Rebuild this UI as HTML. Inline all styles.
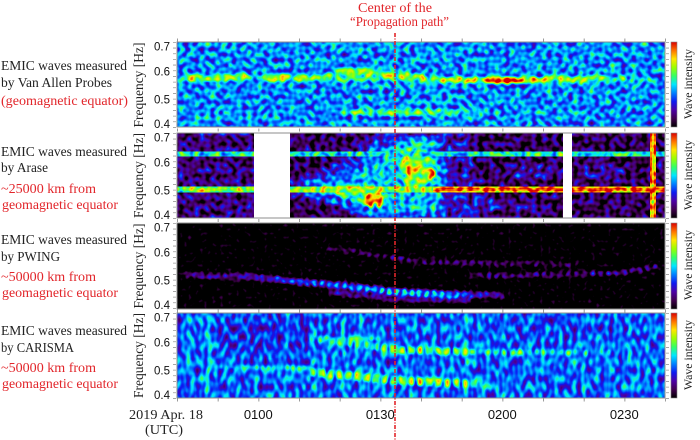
<!DOCTYPE html>
<html><head><meta charset="utf-8">
<style>
html,body{margin:0;padding:0;background:#fff;}
svg{display:block;}
.s{font-family:"Liberation Serif",serif;}
.a{font-family:"Liberation Sans",sans-serif;}
</style></head><body>
<svg width="700" height="440" viewBox="0 0 700 440" xmlns="http://www.w3.org/2000/svg">
<defs>
 <filter id="f1" x="0" y="0" width="1" height="1" color-interpolation-filters="sRGB">
  <feTurbulence type="fractalNoise" baseFrequency="0.19" numOctaves="1" seed="7" result="t"/>
  <feColorMatrix in="t" type="matrix" values="1 0 0 0 0  1 0 0 0 0  1 0 0 0 0  0 0 0 0 1" result="g"/>
  <feComposite in="SourceGraphic" in2="g" operator="arithmetic" k1="0" k2="1" k3="0.8" k4="-0.41" result="s"/>
  <feComponentTransfer in="s">
   <feFuncR type="table" tableValues="0 .25 .3 .05 0 0 .2 .6 1 1 .85"/>
   <feFuncG type="table" tableValues="0 0 0 .1 .5 .9 1 1 .9 .45 0"/>
   <feFuncB type="table" tableValues="0 .3 .65 .95 1 1 .4 0 0 0 0"/>
  </feComponentTransfer>
 </filter>
 <filter id="f2" x="0" y="0" width="1" height="1" color-interpolation-filters="sRGB">
  <feTurbulence type="fractalNoise" baseFrequency="0.19" numOctaves="1" seed="3" result="t"/>
  <feColorMatrix in="t" type="matrix" values="1 0 0 0 0  1 0 0 0 0  1 0 0 0 0  0 0 0 0 1" result="g"/>
  <feComposite in="SourceGraphic" in2="g" operator="arithmetic" k1="0" k2="1" k3="0.8" k4="-0.42" result="s"/>
  <feComponentTransfer in="s">
   <feFuncR type="table" tableValues="0 .25 .3 .05 0 0 .2 .6 1 1 .85"/>
   <feFuncG type="table" tableValues="0 0 0 .1 .5 .9 1 1 .9 .45 0"/>
   <feFuncB type="table" tableValues="0 .3 .65 .95 1 1 .4 0 0 0 0"/>
  </feComponentTransfer>
 </filter>
 <filter id="f3" x="0" y="0" width="1" height="1" color-interpolation-filters="sRGB">
  <feTurbulence type="fractalNoise" baseFrequency="0.25" numOctaves="1" seed="11" result="t"/>
  <feColorMatrix in="t" type="matrix" values="1 0 0 0 0  1 0 0 0 0  1 0 0 0 0  0 0 0 0 1" result="g"/>
  <feComposite in="SourceGraphic" in2="g" operator="arithmetic" k1="0" k2="1" k3="0.5" k4="-0.31" result="s"/>
  <feComponentTransfer in="s">
   <feFuncR type="table" tableValues="0 .25 .3 .05 0 0 .2 .6 1 1 .85"/>
   <feFuncG type="table" tableValues="0 0 0 .1 .5 .9 1 1 .9 .45 0"/>
   <feFuncB type="table" tableValues="0 .3 .65 .95 1 1 .4 0 0 0 0"/>
  </feComponentTransfer>
 </filter>
 <filter id="f4" x="0" y="0" width="1" height="1" color-interpolation-filters="sRGB">
  <feTurbulence type="fractalNoise" baseFrequency="0.22 0.12" numOctaves="1" seed="5" result="t"/>
  <feColorMatrix in="t" type="matrix" values="1 0 0 0 0  1 0 0 0 0  1 0 0 0 0  0 0 0 0 1" result="g"/>
  <feComposite in="SourceGraphic" in2="g" operator="arithmetic" k1="0" k2="1" k3="0.75" k4="-0.375" result="s"/>
  <feComponentTransfer in="s">
   <feFuncR type="table" tableValues="0 .25 .3 .05 0 0 .2 .6 1 1 .85"/>
   <feFuncG type="table" tableValues="0 0 0 .1 .5 .9 1 1 .9 .45 0"/>
   <feFuncB type="table" tableValues="0 .3 .65 .95 1 1 .4 0 0 0 0"/>
  </feComponentTransfer>
 </filter>
 <filter id="bl" filterUnits="userSpaceOnUse" x="0" y="0" width="700" height="440"><feGaussianBlur stdDeviation="1.3"/></filter>
 <filter id="bl2" filterUnits="userSpaceOnUse" x="0" y="0" width="700" height="440"><feGaussianBlur stdDeviation="3"/></filter>
 <linearGradient id="cbar" x1="0" y1="1" x2="0" y2="0">
  <stop offset="0" stop-color="#000000"/><stop offset=".1" stop-color="#40004d"/>
  <stop offset=".2" stop-color="#4d00a6"/><stop offset=".3" stop-color="#0d1af2"/>
  <stop offset=".4" stop-color="#0080ff"/><stop offset=".5" stop-color="#00e6ff"/>
  <stop offset=".6" stop-color="#33ff66"/><stop offset=".7" stop-color="#99ff00"/>
  <stop offset=".8" stop-color="#ffe600"/><stop offset=".9" stop-color="#ff7300"/>
  <stop offset="1" stop-color="#d90000"/>
 </linearGradient>
 <linearGradient id="g3a" gradientUnits="userSpaceOnUse" x1="185" y1="0" x2="505" y2="0">
  <stop offset="0" stop-color="#333333"/><stop offset=".234" stop-color="#575757"/>
  <stop offset=".359" stop-color="#6e6e6e"/><stop offset=".484" stop-color="#858585"/>
  <stop offset=".609" stop-color="#999999"/><stop offset=".734" stop-color="#a6a6a6"/>
  <stop offset=".797" stop-color="#9c9c9c"/><stop offset=".859" stop-color="#808080"/>
  <stop offset=".922" stop-color="#5c5c5c"/><stop offset="1" stop-color="#383838"/>
 </linearGradient>
 <linearGradient id="g3b" gradientUnits="userSpaceOnUse" x1="327" y1="0" x2="577" y2="0">
  <stop offset="0" stop-color="#2b2b2b"/><stop offset=".172" stop-color="#3d3d3d"/>
  <stop offset=".372" stop-color="#4d4d4d"/><stop offset=".692" stop-color="#424242"/>
  <stop offset="1" stop-color="#303030"/>
 </linearGradient>
 <linearGradient id="g3c" gradientUnits="userSpaceOnUse" x1="470" y1="0" x2="662" y2="0">
  <stop offset="0" stop-color="#333333"/><stop offset=".156" stop-color="#525252"/>
  <stop offset=".677" stop-color="#525252"/><stop offset="1" stop-color="#575757"/>
 </linearGradient>
 <linearGradient id="g4a" gradientUnits="userSpaceOnUse" x1="213" y1="0" x2="310" y2="0">
  <stop offset="0" stop-color="#808080"/><stop offset="1" stop-color="#999999"/>
 </linearGradient>
 <linearGradient id="g4b" gradientUnits="userSpaceOnUse" x1="310" y1="0" x2="487" y2="0">
  <stop offset="0" stop-color="#adadad"/><stop offset=".17" stop-color="#c2c2c2"/>
  <stop offset=".73" stop-color="#c4c4c4"/><stop offset=".9" stop-color="#a8a8a8"/>
  <stop offset="1" stop-color="#8c8c8c"/>
 </linearGradient>
 <linearGradient id="g4c" gradientUnits="userSpaceOnUse" x1="310" y1="0" x2="470" y2="0">
  <stop offset="0" stop-color="#949494"/><stop offset=".3" stop-color="#a8a8a8"/>
  <stop offset=".56" stop-color="#bdbdbd"/><stop offset="1" stop-color="#bdbdbd"/>
 </linearGradient>
 <linearGradient id="g4d" gradientUnits="userSpaceOnUse" x1="470" y1="0" x2="625" y2="0">
  <stop offset="0" stop-color="#b0b0b0"/><stop offset=".15" stop-color="#9e9e9e"/>
  <stop offset=".85" stop-color="#949494"/><stop offset="1" stop-color="#7a7a7a"/>
 </linearGradient>
</defs>

<!-- ========== Panel 1 ========== -->
<g filter="url(#f1)">
 <rect x="177" y="42" width="488" height="85" fill="#6b6b6b"/>
 <g filter="url(#bl)">
  <rect x="182" y="75" width="66" height="6" fill="#a3a3a3"/>
  <rect x="248" y="76" width="14" height="4" fill="#858585"/>
  <rect x="262" y="75" width="68" height="6" fill="#a3a3a3"/>
  <ellipse cx="192" cy="78" rx="6" ry="3" fill="#c2c2c2"/>
  <ellipse cx="213" cy="78" rx="6" ry="3" fill="#bababa"/>
  <ellipse cx="228" cy="77" rx="5" ry="3" fill="#c7c7c7"/>
  <ellipse cx="241" cy="76" rx="5" ry="3" fill="#bababa"/>
  <ellipse cx="271" cy="79" rx="5" ry="3" fill="#bababa"/>
  <ellipse cx="283" cy="77" rx="4" ry="3" fill="#d9d9d9"/>
  <ellipse cx="300" cy="78" rx="6" ry="3" fill="#bababa"/>
  <ellipse cx="316" cy="77" rx="6" ry="3" fill="#b3b3b3"/>
  <polygon points="320,76 345,67 385,68 430,76 430,84 385,81 345,81 320,82" fill="#999999"/>
  <ellipse cx="350" cy="74" rx="6" ry="3" fill="#b3b3b3"/>
  <ellipse cx="368" cy="73" rx="6" ry="3" fill="#b3b3b3"/>
  <ellipse cx="388" cy="75" rx="6" ry="3" fill="#b8b8b8"/>
  <ellipse cx="405" cy="77" rx="6" ry="3" fill="#b3b3b3"/>
  <ellipse cx="422" cy="78" rx="6" ry="3" fill="#b8b8b8"/>
  <rect x="430" y="77" width="170" height="6" fill="#a8a8a8"/>
  <rect x="600" y="78" width="50" height="4" fill="#8f8f8f"/>
  <ellipse cx="440" cy="80" rx="6" ry="3" fill="#bababa"/>
  <ellipse cx="455" cy="79" rx="6" ry="3" fill="#c7c7c7"/>
  <ellipse cx="470" cy="80" rx="6" ry="3" fill="#c7c7c7"/>
  <ellipse cx="503" cy="80" rx="20" ry="3.5" fill="#f2f2f2"/>
  <ellipse cx="533" cy="80" rx="6" ry="3" fill="#e0e0e0"/>
  <ellipse cx="548" cy="79" rx="5" ry="3" fill="#d9d9d9"/>
  <ellipse cx="565" cy="78" rx="6" ry="3" fill="#c7c7c7"/>
  <ellipse cx="582" cy="79" rx="6" ry="3" fill="#bfbfbf"/>
  <ellipse cx="600" cy="78" rx="6" ry="3" fill="#b3b3b3"/>
  <ellipse cx="620" cy="79" rx="6" ry="2.5" fill="#a6a6a6"/>
  <ellipse cx="415" cy="112" rx="75" ry="4" fill="#8f8f8f"/>
  <ellipse cx="360" cy="112" rx="8" ry="3" fill="#999999"/>
  <ellipse cx="392" cy="113" rx="8" ry="3" fill="#999999"/>
  <ellipse cx="432" cy="112" rx="8" ry="3" fill="#999999"/>
 </g>
</g>

<!-- ========== Panel 2 ========== -->
<g filter="url(#f2)">
 <rect x="177" y="133" width="488" height="85" fill="#1f1f1f"/>
 <rect x="177" y="133" width="77" height="85" fill="#2b2b2b"/>
 <g filter="url(#bl)">
  <polygon points="290,181 337,161 357,144 368,133 470,133 480,218 357,218 337,208 290,196" fill="#3b3b3b"/>
  <polygon points="298,184 342,170 364,152 380,137 440,135 448,175 445,218 368,218 340,205 298,194" fill="#5e5e5e"/>
  <polygon points="315,185 350,178 375,163 395,142 435,139 442,190 435,212 385,212 350,199 315,193" fill="#7d7d7d"/>
  <ellipse cx="470" cy="205" rx="28" ry="11" fill="#454545"/>
  <ellipse cx="535" cy="172" rx="30" ry="8" fill="#383838"/>
  <ellipse cx="600" cy="172" rx="25" ry="8" fill="#383838"/>
  <ellipse cx="520" cy="205" rx="25" ry="8" fill="#333333"/>
 </g>
 <g filter="url(#bl)">
  <ellipse cx="365" cy="196" rx="16" ry="9" fill="#a3a3a3"/>
  <ellipse cx="416" cy="168" rx="16" ry="22" fill="#a3a3a3"/>
  <ellipse cx="342" cy="190" rx="9" ry="5" fill="#a3a3a3"/>
  <ellipse cx="340" cy="191" rx="5" ry="4" fill="#e0e0e0"/>
  <ellipse cx="370" cy="200" rx="4" ry="8" fill="#f2f2f2"/>
  <ellipse cx="379" cy="200" rx="4" ry="8" fill="#f2f2f2"/>
  <ellipse cx="411" cy="171" rx="4" ry="8" fill="#f2f2f2"/>
  <ellipse cx="418" cy="166" rx="3" ry="5" fill="#e6e6e6"/>
  <ellipse cx="431" cy="174" rx="4" ry="6" fill="#f2f2f2"/>
  <ellipse cx="404" cy="160" rx="3" ry="4" fill="#d9d9d9"/>
 </g>
 <rect x="177" y="151.5" width="488" height="5" fill="#8c8c8c"/>
 <rect x="177" y="186.5" width="113" height="6" fill="#a6a6a6"/>
 <rect x="177" y="188" width="113" height="3" fill="#b8b8b8"/>
 <rect x="290" y="186.5" width="143" height="6" fill="#b8b8b8"/>
 <rect x="433" y="186.5" width="232" height="6" fill="#dedede"/>
 <rect x="433" y="188" width="232" height="3" fill="#f7f7f7"/>
 <rect x="650" y="133" width="6" height="85" fill="#ebebeb"/>
 <rect x="652" y="133" width="2" height="85" fill="#d1d1d1"/>
 <rect x="650" y="186.5" width="6" height="6" fill="#f7f7f7"/>
</g>
<rect x="254" y="133" width="36" height="85" fill="#ffffff"/>
<rect x="563" y="133" width="9" height="85" fill="#ffffff"/>

<!-- ========== Panel 3 ========== -->
<g filter="url(#f3)">
 <rect x="177" y="223" width="488" height="86" fill="#000000"/>
 <g filter="url(#bl)">
  <polyline points="185,275 253,277 303,282 353,287 397,292 440,294 480,295 505,295" fill="none" stroke="#383838" stroke-width="4"/>
  <polyline points="330,292 400,299 470,300" fill="none" stroke="#3d3d3d" stroke-width="6"/>
  <polyline points="185,275 253,277 303,282 353,287 397,292 440,294 480,295 505,295" fill="none" stroke="url(#g3a)" stroke-width="7" stroke-dasharray="5 2.5"/>
  <polyline points="327,248 420,262 577,265" fill="none" stroke="url(#g3b)" stroke-width="5" stroke-dasharray="5 3"/>
  <polyline points="470,276 620,273 662,266" fill="none" stroke="url(#g3c)" stroke-width="5" stroke-dasharray="5 3"/>
 </g>
</g>

<!-- ========== Panel 4 ========== -->
<g filter="url(#f4)">
 <rect x="177" y="313" width="488" height="85" fill="#5e5e5e"/>
 <g filter="url(#bl2)">
  <ellipse cx="270" cy="335" rx="60" ry="22" fill="#4f4f4f"/>
  <ellipse cx="560" cy="325" rx="70" ry="12" fill="#555555"/>
 </g>
 <g fill="#707070" filter="url(#bl)">
  <rect x="189" y="313" width="3" height="85"/>
  <rect x="206" y="313" width="4" height="85" fill="#828282"/>
  <rect x="285" y="313" width="3" height="85"/>
  <rect x="312" y="313" width="3" height="85"/>
  <rect x="342" y="313" width="3" height="85" fill="#6e6e6e"/>
  <rect x="359" y="313" width="3" height="85" fill="#6b6b6b"/>
  <rect x="466" y="313" width="3" height="85" fill="#7a7a7a"/>
  <rect x="502" y="313" width="3" height="85"/>
  <rect x="529" y="313" width="3" height="85" fill="#6b6b6b"/>
  <rect x="582" y="313" width="3" height="85"/>
  <rect x="606" y="313" width="3" height="85" fill="#6e6e6e"/>
  <rect x="629" y="313" width="3" height="85"/>
  <rect x="646" y="313" width="3" height="85" fill="#6b6b6b"/>
 </g>
 <g filter="url(#bl)">
  <path d="M213,367 L310,368" fill="none" stroke="url(#g4a)" stroke-width="4" stroke-dasharray="4 2"/>
  <path d="M310,372 L395,380 L440,383 L487,384" fill="none" stroke="url(#g4b)" stroke-width="8" stroke-dasharray="6 3"/>
  <path d="M317,338 L378,339" fill="none" stroke="#8c8c8c" stroke-width="3"/>
  <path d="M310,337 L400,350 L470,352" fill="none" stroke="url(#g4c)" stroke-width="7" stroke-dasharray="6 3"/>
  <path d="M470,352 L625,353" fill="none" stroke="url(#g4d)" stroke-width="5" stroke-dasharray="5 3"/>
 </g>
</g>

<!-- frames -->
<g fill="none" stroke="#8c8c8c" stroke-width="1">
 <rect x="177" y="42" width="488" height="85"/>
 <rect x="177" y="133" width="488" height="85"/>
 <rect x="177" y="223" width="488" height="86"/>
 <rect x="177" y="313" width="488" height="85"/>
</g>
<!-- y minor ticks left and right -->
<g stroke="#999" stroke-width="3" stroke-dasharray="0.8 4.87">
 <line x1="174.5" y1="42" x2="174.5" y2="128"/>
 <line x1="174.5" y1="133" x2="174.5" y2="219"/>
 <line x1="174.5" y1="223" x2="174.5" y2="310"/>
 <line x1="174.5" y1="313" x2="174.5" y2="399"/>
 <line x1="667.5" y1="42" x2="667.5" y2="128"/>
 <line x1="667.5" y1="133" x2="667.5" y2="219"/>
 <line x1="667.5" y1="223" x2="667.5" y2="310"/>
 <line x1="667.5" y1="313" x2="667.5" y2="399"/>
</g>
<!-- x ticks -->
<g stroke="#999" stroke-width="3" stroke-dasharray="1 39.67">
 <line x1="177" y1="40" x2="666" y2="40"/>
 <line x1="177" y1="130" x2="666" y2="130"/>
 <line x1="177" y1="220.5" x2="666" y2="220.5"/>
 <line x1="177" y1="311" x2="666" y2="311"/>
 <line x1="177" y1="400" x2="666" y2="400"/>
</g>

<!-- colorbars -->
<g stroke="#888" stroke-width="0.6">
 <rect x="671" y="42" width="6" height="85" fill="url(#cbar)"/>
 <rect x="671" y="133" width="6" height="85" fill="url(#cbar)"/>
 <rect x="671" y="223" width="6" height="86" fill="url(#cbar)"/>
 <rect x="671" y="313" width="6" height="85" fill="url(#cbar)"/>
</g>

<!-- y tick labels -->
<g class="a" font-size="11.5" text-anchor="end" fill="#111">
 <text x="170" y="50.5">0.7</text><text x="170" y="75.5">0.6</text><text x="170" y="103.5">0.5</text><text x="170" y="128">0.4</text>
 <text x="170" y="141.5">0.7</text><text x="170" y="166.5">0.6</text><text x="170" y="194.5">0.5</text><text x="170" y="219">0.4</text>
 <text x="170" y="231.5">0.7</text><text x="170" y="256.5">0.6</text><text x="170" y="284.5">0.5</text><text x="170" y="309">0.4</text>
 <text x="170" y="321.5">0.7</text><text x="170" y="346.5">0.6</text><text x="170" y="374.5">0.5</text><text x="170" y="399">0.4</text>
</g>

<!-- Frequency labels -->
<g class="s" font-size="13.5" text-anchor="middle" fill="#222">
 <text transform="translate(143,85) rotate(-90)" textLength="85" lengthAdjust="spacingAndGlyphs">Frequency [Hz]</text>
 <text transform="translate(143,175.5) rotate(-90)" textLength="85" lengthAdjust="spacingAndGlyphs">Frequency [Hz]</text>
 <text transform="translate(143,266) rotate(-90)" textLength="85" lengthAdjust="spacingAndGlyphs">Frequency [Hz]</text>
 <text transform="translate(143,355.5) rotate(-90)" textLength="85" lengthAdjust="spacingAndGlyphs">Frequency [Hz]</text>
</g>
<!-- Wave intensity -->
<g class="s" font-size="12" text-anchor="middle" fill="#222">
 <text transform="translate(692,84) rotate(-90)" textLength="70" lengthAdjust="spacingAndGlyphs">Wave intensity</text>
 <text transform="translate(692,175) rotate(-90)" textLength="70" lengthAdjust="spacingAndGlyphs">Wave intensity</text>
 <text transform="translate(692,265) rotate(-90)" textLength="70" lengthAdjust="spacingAndGlyphs">Wave intensity</text>
 <text transform="translate(692,355) rotate(-90)" textLength="70" lengthAdjust="spacingAndGlyphs">Wave intensity</text>
</g>

<!-- left labels -->
<g class="s" font-size="13.5" fill="#222">
 <text x="1" y="70" textLength="126" lengthAdjust="spacingAndGlyphs">EMIC waves measured</text>
 <text x="1" y="87" textLength="111" lengthAdjust="spacingAndGlyphs">by Van Allen Probes</text>
 <text x="1" y="105" textLength="127" lengthAdjust="spacingAndGlyphs" fill="#e2262b">(geomagnetic equator)</text>

 <text x="1" y="156" textLength="126" lengthAdjust="spacingAndGlyphs">EMIC waves measured</text>
 <text x="1" y="172" textLength="47" lengthAdjust="spacingAndGlyphs">by Arase</text>
 <text x="1" y="193" textLength="95" lengthAdjust="spacingAndGlyphs" fill="#e2262b">~25000 km from</text>
 <text x="2" y="209" textLength="116" lengthAdjust="spacingAndGlyphs" fill="#e2262b">geomagnetic equator</text>

 <text x="1" y="244" textLength="126" lengthAdjust="spacingAndGlyphs">EMIC waves measured</text>
 <text x="1" y="261" textLength="59" lengthAdjust="spacingAndGlyphs">by PWING</text>
 <text x="1" y="281" textLength="95" lengthAdjust="spacingAndGlyphs" fill="#e2262b">~50000 km from</text>
 <text x="2" y="297" textLength="116" lengthAdjust="spacingAndGlyphs" fill="#e2262b">geomagnetic equator</text>

 <text x="1" y="335" textLength="126" lengthAdjust="spacingAndGlyphs">EMIC waves measured</text>
 <text x="1" y="352" textLength="73" lengthAdjust="spacingAndGlyphs">by CARISMA</text>
 <text x="1" y="372" textLength="95" lengthAdjust="spacingAndGlyphs" fill="#e2262b">~50000 km from</text>
 <text x="2" y="388" textLength="116" lengthAdjust="spacingAndGlyphs" fill="#e2262b">geomagnetic equator</text>
</g>

<!-- time axis -->
<g class="a" font-size="13" text-anchor="middle" fill="#111">
 <text x="258.3" y="419">0100</text>
 <text x="380.3" y="419">0130</text>
 <text x="502.3" y="419">0200</text>
 <text x="624.3" y="419">0230</text>
</g>
<text class="s" x="129" y="419" font-size="13.5" fill="#222" textLength="74" lengthAdjust="spacingAndGlyphs">2019 Apr. 18</text>
<text class="s" x="145" y="434" font-size="13.5" fill="#222" textLength="38" lengthAdjust="spacingAndGlyphs">(UTC)</text>

<!-- title -->
<text class="s" x="395" y="12" font-size="14" fill="#e2262b" text-anchor="middle" textLength="74" lengthAdjust="spacingAndGlyphs">Center of the</text>
<text class="s" x="399.5" y="26" font-size="14" fill="#e2262b" text-anchor="middle" textLength="99" lengthAdjust="spacingAndGlyphs">“Propagation path”</text>

<!-- red dashed line -->
<line x1="395" y1="33" x2="395" y2="440" stroke="#e2262b" stroke-width="1.6" stroke-dasharray="4 1.5 1 1.5"/>
</svg>
</body></html>
